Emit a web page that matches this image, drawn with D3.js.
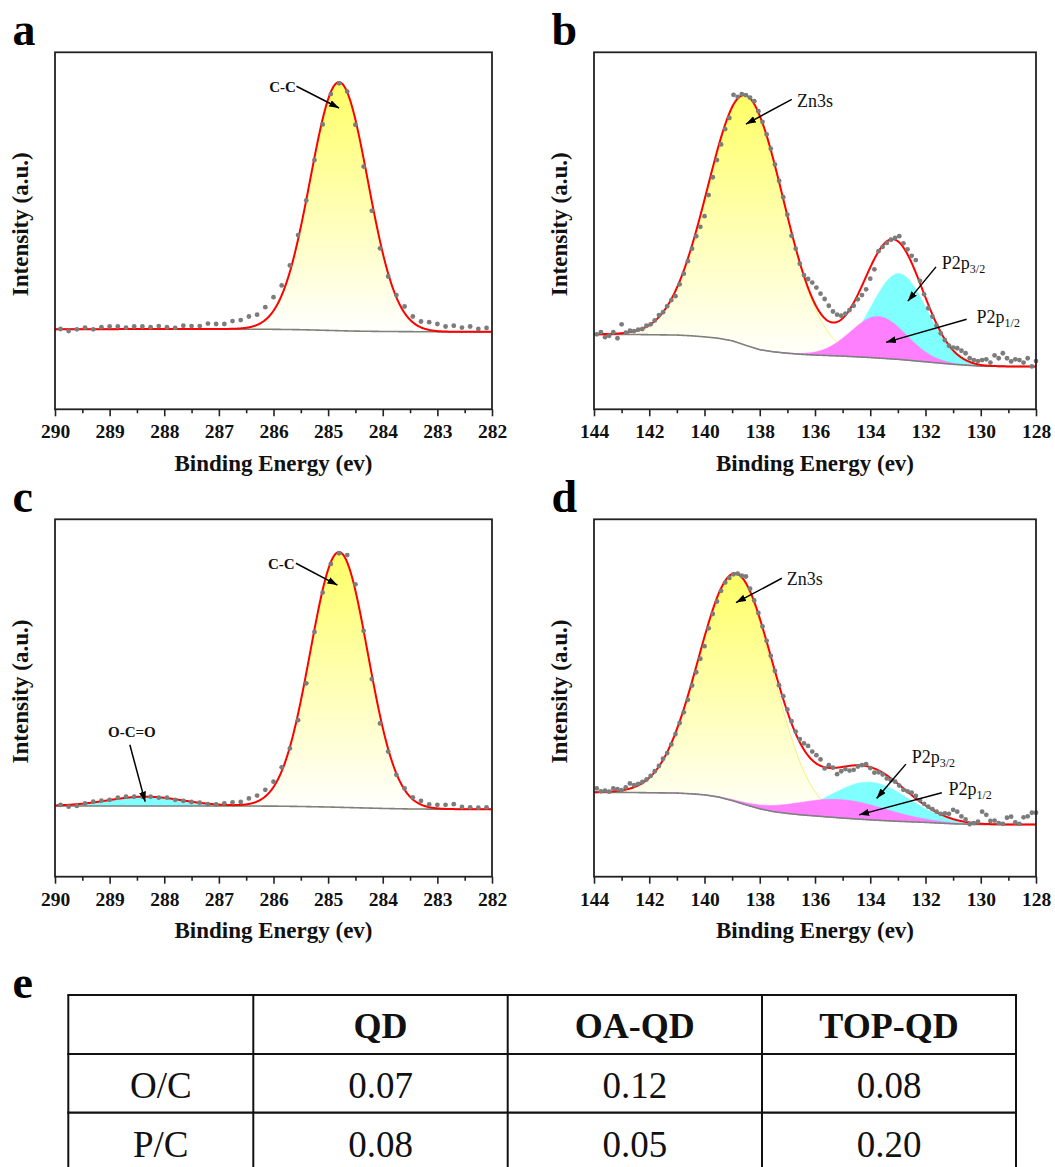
<!DOCTYPE html>
<html><head><meta charset="utf-8">
<script src="https://cdn.jsdelivr.net/npm/d3@7"></script>
<style>body{margin:0;background:#fff;} svg{display:block;font-family:"Liberation Serif","Times New Roman",serif;}</style>
</head><body><svg id="chart" width="1055" height="1167"></svg>
<script>
// ---------------- DATA ----------------
const xTicksAC = [290, 289, 288, 287, 286, 285, 284, 283, 282];
const xTicksBD = [144, 142, 140, 138, 136, 134, 132, 130, 128];

// C 1s spectra (panels a, c): binding energy (eV) and intensity (a.u., 0-100 of plot height)
const energyAC = [289.90, 289.75, 289.60, 289.45, 289.30, 289.15, 289.00, 288.85, 288.70, 288.55, 288.40, 288.25, 288.10, 287.95, 287.80, 287.65, 287.50, 287.35, 287.20, 287.05, 286.90, 286.75, 286.60, 286.45, 286.30, 286.15, 286.00, 285.85, 285.70, 285.55, 285.40, 285.25, 285.10, 284.95, 284.80, 284.65, 284.50, 284.35, 284.20, 284.05, 283.90, 283.75, 283.60, 283.45, 283.30, 283.15, 283.00, 282.85, 282.70, 282.55, 282.40, 282.25, 282.10];
const dotsA = [22.5, 21.9, 22.4, 22.9, 22.4, 23.0, 23.2, 23.2, 22.9, 23.2, 23.2, 23.0, 23.3, 23.0, 22.8, 23.4, 23.3, 23.3, 24.0, 23.9, 23.9, 24.7, 25.0, 26.0, 26.5, 28.6, 31.4, 34.7, 40.3, 48.8, 58.5, 69.8, 79.8, 88.3, 91.3, 89.0, 79.7, 68.0, 55.6, 45.1, 37.2, 32.0, 28.8, 26.0, 24.6, 24.4, 23.9, 23.2, 23.4, 22.9, 23.2, 22.5, 22.8];
const dotsC = [20.1, 19.6, 19.8, 20.5, 21.0, 21.3, 21.5, 22.1, 22.4, 22.4, 22.4, 22.4, 22.1, 22.1, 21.5, 21.2, 20.9, 20.7, 20.3, 20.2, 20.5, 20.8, 20.9, 21.9, 22.7, 24.3, 26.6, 30.6, 35.9, 43.8, 54.1, 68.5, 79.5, 87.5, 90.5, 90.0, 81.8, 68.8, 55.3, 42.9, 35.0, 28.5, 24.7, 22.2, 21.2, 20.2, 20.1, 20.1, 20.3, 19.5, 19.4, 19.3, 19.4];

// Zn 3s / P 2p spectra (panels b, d)
const energyBD = [143.90, 143.75, 143.60, 143.45, 143.30, 143.15, 143.00, 142.85, 142.70, 142.55, 142.40, 142.25, 142.10, 141.95, 141.80, 141.65, 141.50, 141.35, 141.20, 141.05, 140.90, 140.75, 140.60, 140.45, 140.30, 140.15, 140.00, 139.85, 139.70, 139.55, 139.40, 139.25, 139.10, 138.95, 138.80, 138.65, 138.50, 138.35, 138.20, 138.05, 137.90, 137.75, 137.60, 137.45, 137.30, 137.15, 137.00, 136.85, 136.70, 136.55, 136.40, 136.25, 136.10, 135.95, 135.80, 135.65, 135.50, 135.35, 135.20, 135.05, 134.90, 134.75, 134.60, 134.45, 134.30, 134.15, 134.00, 133.85, 133.70, 133.55, 133.40, 133.25, 133.10, 132.95, 132.80, 132.65, 132.50, 132.35, 132.20, 132.05, 131.90, 131.75, 131.60, 131.45, 131.30, 131.15, 131.00, 130.85, 130.70, 130.55, 130.40, 130.25, 130.10, 129.95, 129.80, 129.65, 129.50, 129.35, 129.20, 129.05, 128.90, 128.75, 128.60, 128.45, 128.30, 128.15, 128.00];
const dotsB = [21.0, 21.6, 20.2, 20.6, 21.6, 19.9, 23.8, 21.5, 22.0, 21.9,
  22.3, 22.5, 23.4, 23.8, 24.9, 26.4, 27.2, 28.9, 30.6, 31.7,
  35.0, 38.0, 41.5, 45.0, 48.5, 51.1, 54.1, 60.0, 65.0, 69.8,
  74.2, 78.5, 81.6, 88.1, 87.5, 88.3, 88.0, 87.3, 86.3, 83.5,
  80.5, 77.0, 73.0, 68.6, 64.0, 59.4, 54.5, 48.6, 45.0, 40.8,
  37.6, 36.5, 35.5, 34.1, 32.4, 30.9, 29.0, 27.4, 26.5, 26.2,
  26.8, 27.8, 29.0, 30.8, 32.0, 33.6, 36.6, 39.2, 44.3, 45.5,
  46.6, 47.5, 48.0, 48.5, 46.5, 44.8, 43.0, 41.8, 36.0, 32.2,
  28.3, 26.0, 23.5, 21.3, 19.4, 17.8, 17.3, 17.1, 16.4, 15.7,
  14.3, 13.8, 13.5, 13.8, 14.0, 13.1, 15.1, 14.3, 15.7, 14.3,
  13.4, 14.0, 13.8, 13.1, 14.3, 12.0, 13.5];
const dotsD = [24.7, 23.9, 24.1, 23.8, 24.7, 24.5, 24.2, 25.0, 26.1, 25.6,
  26.0, 26.5, 27.2, 28.2, 29.5, 31.0, 33.0, 34.6, 37.0, 39.9,
  43.0, 46.0, 49.5, 53.5, 57.2, 61.0, 64.5, 69.5, 73.5, 77.0,
  80.0, 82.3, 83.6, 84.6, 84.8, 84.2, 84.0, 80.6, 77.3, 73.8,
  70.0, 66.0, 61.8, 57.6, 53.6, 50.5, 46.8, 43.5, 40.6, 38.5,
  37.3, 36.6, 35.0, 34.0, 32.8, 30.3, 31.2, 30.5, 28.7, 29.5,
  30.1, 29.7, 29.9, 30.8, 31.2, 31.5, 30.4, 29.1, 29.2, 28.6,
  27.5, 27.0, 26.6, 25.5, 24.3, 23.9, 23.5, 22.6, 21.4, 20.4,
  19.6, 18.9, 18.2, 17.6, 17.7, 17.6, 18.7, 18.2, 16.9, 16.0,
  14.7, 15.0, 15.4, 18.2, 17.3, 15.6, 15.7, 15.0, 14.8, 16.5,
  16.8, 15.2, 14.8, 16.6, 16.9, 17.9, 17.9];

// Backgrounds (Shirley-type)
const bgEnergyAC = [290, 288, 287, 286, 285.5, 285, 284.5, 284, 283.5, 283, 282];
const bgA = [22.4, 22.5, 22.5, 22.4, 22.3, 22.1, 21.9, 21.8, 21.75, 21.7, 21.7];
const bgC = [19.8, 19.8, 19.8, 19.75, 19.65, 19.5, 19.3, 19.1, 18.95, 18.9, 18.85];
const bgEnergyBD = [144, 143, 142, 141, 140.5, 140, 139.5, 139, 138.5, 138, 137.5, 137, 136.5, 136, 135, 134, 133, 132, 131, 130, 129, 128];
const bgB = [21.0, 21.0, 20.9, 20.8, 20.6, 20.3, 19.9, 19.2, 17.9, 16.7, 16.1, 15.7, 15.4, 15.2, 14.9, 14.5, 14.0, 13.3, 12.6, 12.1, 12.0, 12.0];
const bgD = [23.6, 23.6, 23.5, 23.4, 23.2, 22.9, 22.3, 21.3, 20.1, 19.0, 18.2, 17.7, 17.3, 17.0, 16.4, 15.9, 15.5, 15.2, 14.8, 14.6, 14.6, 14.6];

// Fitted component peaks: centre (eV), height (a.u.), sigma (eV)
const peaksA = [{ name: "C-C", center: 284.8, height: 69.6, sigma: 0.527, kind: "yellow" }];
const peaksC = [
  { name: "O-C=O", center: 288.35, height: 2.6, sigma: 0.68, kind: "cyan" },
  { name: "C-C", center: 284.8, height: 71.4, sigma: 0.527, kind: "yellow" }];
const peaksB = [
  { name: "Zn3s", center: 138.5, height: 70, sigma: 1.37, kind: "yellow" },
  { name: "P2p3/2", center: 132.95, height: 24, sigma: 1.0, kind: "cyan" },
  { name: "P2p1/2", center: 133.7, height: 11.6, sigma: 1.0, kind: "magenta" }];
const peaksD = [
  { name: "Zn3s", center: 138.85, height: 63.5, sigma: 1.35, kind: "yellow" },
  { name: "P2p3/2", center: 134.0, height: 10.5, sigma: 1.4, kind: "cyan" },
  { name: "P2p1/2", center: 135.05, height: 5.1, sigma: 1.65, kind: "magenta" }];

// Annotations (label position and arrow in data coordinates)
const notesA = [{ text: "C-C", bold: true, tx: 286.08, ty: 88.8, from: [285.58, 90.5], to: [284.8, 84.4] }];
const notesC = [
  { text: "C-C", bold: true, tx: 286.1, ty: 86.1, from: [285.59, 87.7], to: [284.83, 81.6] },
  { text: "O-C=O", bold: true, tx: 289.03, ty: 39.1, from: [288.63, 36.9], to: [288.35, 21.0] }];
const notesB = [
  { text: "Zn3s", tx: 136.65, ty: 84.6, from: [136.84, 86.8], to: [138.5, 79.9] },
  { text: "P2p", sub: "3/2", tx: 131.41, ty: 39.4, from: [131.62, 39.9], to: [132.64, 30.3] },
  { text: "P2p", sub: "1/2", tx: 130.15, ty: 24.2, from: [130.51, 25.2], to: [133.43, 18.75] }];
const notesD = [
  { text: "Zn3s", tx: 137.02, ty: 81.6, from: [137.2, 83.5], to: [138.86, 76.7] },
  { text: "P2p", sub: "3/2", tx: 132.5, ty: 31.7, from: [132.71, 31.5], to: [133.77, 21.9] },
  { text: "P2p", sub: "1/2", tx: 131.17, ty: 22.9, from: [131.41, 23.5], to: [134.4, 17.3] }];

// Table (panel e)
const tableHeader = ["", "QD", "OA-QD", "TOP-QD"];
const tableRowLabels = ["O/C", "P/C"];
const tableValues = [["0.07", "0.12", "0.08"], ["0.08", "0.05", "0.20"]];

// ---------------- DRAWING ----------------
const FONT = '"Liberation Serif","Times New Roman",serif';
const svg = d3.select("#chart");
const defs = svg.append("defs");
const grad = defs.append("linearGradient").attr("id", "yellowGrad")
  .attr("x1", 0).attr("y1", 0).attr("x2", 0).attr("y2", 1);
grad.append("stop").attr("offset", "0%").attr("stop-color", "#ffff66");
grad.append("stop").attr("offset", "100%").attr("stop-color", "#ffffff");
defs.append("marker").attr("id", "arrowHead").attr("viewBox", "0 0 10 7")
  .attr("refX", 10).attr("refY", 3.5).attr("markerWidth", 10).attr("markerHeight", 7)
  .attr("markerUnits", "userSpaceOnUse").attr("orient", "auto")
  .append("path").attr("d", "M0,0 L10,3.5 L0,7 Z").attr("fill", "#000");

const fills = {
  yellow: { fill: "url(#yellowGrad)", stroke: "#eeee55" },
  cyan: { fill: "#80ffff", stroke: "#80ffff" },
  magenta: { fill: "#ff80ff", stroke: "#ff80ff" }
};

function drawPanel(id, box, letter, ticks, energy, dots, bgE, bgV, peaks, notes) {
  const { left, right, top, bottom } = box;
  const x = d3.scaleLinear().domain([ticks[0], ticks[ticks.length - 1]]).range([left, right]);
  const y = d3.scaleLinear().domain([0, 100]).range([bottom, top]);
  const bg = d3.scaleLinear().domain(bgE).range(bgV).clamp(true);
  const gauss = (p, e) => p.height * Math.exp(-0.5 * ((e - p.center) / p.sigma) ** 2);
  const [d0, d1] = x.domain();
  const grid = d3.range(0, 1201).map(i => d0 + (d1 - d0) * i / 1200);

  defs.append("clipPath").attr("id", "clip" + id).append("rect")
    .attr("x", left).attr("y", top).attr("width", right - left).attr("height", bottom - top);
  const g = svg.append("g");
  const plot = g.append("g").attr("clip-path", `url(#clip${id})`);

  peaks.forEach(p => {
    const pts = grid.filter(e => Math.abs(e - p.center) <= 4.5 * p.sigma);
    plot.append("path").datum(pts)
      .attr("d", d3.area().x(e => x(e)).y0(e => y(bg(e))).y1(e => y(bg(e) + gauss(p, e))))
      .attr("fill", fills[p.kind].fill).attr("stroke", fills[p.kind].stroke).attr("stroke-width", 0.8);
  });
  plot.append("path").datum(grid)
    .attr("d", d3.line().x(e => x(e)).y(e => y(bg(e))))
    .attr("fill", "none").attr("stroke", "#808080").attr("stroke-width", 1.6);

  g.append("g").selectAll("circle").data(d3.zip(energy, dots)).join("circle")
    .attr("cx", d => x(d[0])).attr("cy", d => y(d[1])).attr("r", 2.4).attr("fill", "#7c7c7c");

  plot.append("path").datum(grid)
    .attr("d", d3.line().x(e => x(e)).y(e => y(bg(e) + d3.sum(peaks, p => gauss(p, e)))))
    .attr("fill", "none").attr("stroke", "#ff0000").attr("stroke-width", 2);

  // frame
  g.append("rect").attr("x", left).attr("y", top).attr("width", right - left).attr("height", bottom - top)
    .attr("fill", "none").attr("stroke", "#222").attr("stroke-width", 1.8);

  // axis
  const major = d3.axisBottom(x).tickValues(ticks).tickSize(7).tickSizeOuter(0).tickPadding(8).tickFormat(d3.format("d"));
  const ax = g.append("g").attr("transform", `translate(0,${bottom})`).call(major);
  ax.select(".domain").remove();
  ax.selectAll("line").attr("stroke", "#222").attr("stroke-width", 1.6);
  ax.selectAll("text").attr("font-size", 19.5).attr("font-weight", "bold").attr("fill", "#111").attr("font-family", FONT);
  const minorVals = d3.pairs(ticks).map(([a, b]) => (a + b) / 2);
  const minor = d3.axisBottom(x).tickValues(minorVals).tickSize(4).tickSizeOuter(0).tickFormat("");
  const axm = g.append("g").attr("transform", `translate(0,${bottom})`).call(minor);
  axm.select(".domain").remove();
  axm.selectAll("line").attr("stroke", "#222").attr("stroke-width", 1.6);

  // titles
  g.append("text").attr("x", (left + right) / 2).attr("y", bottom + 61.6).attr("text-anchor", "middle")
    .attr("font-size", 23).attr("font-weight", "bold").attr("fill", "#111").text("Binding Energy (ev)");
  g.append("text").attr("transform", `translate(${left - 27},${(top + bottom) / 2 - 6.5}) rotate(-90)`)
    .attr("text-anchor", "middle").attr("font-size", 23).attr("font-weight", "bold").attr("fill", "#111")
    .text("Intensity (a.u.)");
  g.append("text").attr("x", left - 42.5).attr("y", top - 7.5).attr("font-size", 46).attr("font-weight", "bold")
    .attr("fill", "#000").text(letter);

  // annotations
  notes.forEach(a => {
    g.append("line").attr("x1", x(a.from[0])).attr("y1", y(a.from[1])).attr("x2", x(a.to[0])).attr("y2", y(a.to[1]))
      .attr("stroke", "#000").attr("stroke-width", 1.5).attr("marker-end", "url(#arrowHead)");
    const t = g.append("text").attr("x", x(a.tx)).attr("y", y(a.ty)).attr("fill", "#111")
      .attr("font-size", a.bold ? 15 : 18).attr("font-weight", a.bold ? "bold" : "normal");
    t.append("tspan").text(a.text);
    if (a.sub) t.append("tspan").attr("dy", 4).attr("font-size", 12).text(a.sub);
  });
}

drawPanel("a", { left: 55, right: 492, top: 52.3, bottom: 409.3 }, "a", xTicksAC, energyAC, dotsA, bgEnergyAC, bgA, peaksA, notesA);
drawPanel("b", { left: 594, right: 1036, top: 52.3, bottom: 409.3 }, "b", xTicksBD, energyBD, dotsB, bgEnergyBD, bgB, peaksB, notesB);
drawPanel("c", { left: 55, right: 492, top: 519.3, bottom: 876.7 }, "c", xTicksAC, energyAC, dotsC, bgEnergyAC, bgC, peaksC, notesC);
drawPanel("d", { left: 594, right: 1036, top: 519.3, bottom: 876.7 }, "d", xTicksBD, energyBD, dotsD, bgEnergyBD, bgD, peaksD, notesD);

// ---------------- TABLE (e) ----------------
const colEdges = [68.3, 253.3, 507.7, 762, 1016];
const rowEdges = [995, 1054, 1112.7, 1171.4];
const tg = svg.append("g");
tg.append("text").attr("x", 12.5).attr("y", 998).attr("font-size", 46).attr("font-weight", "bold").text("e");
rowEdges.forEach(yy => tg.append("line").attr("x1", colEdges[0] - 1).attr("x2", colEdges[4] + 1).attr("y1", yy).attr("y2", yy)
  .attr("stroke", "#111").attr("stroke-width", 2.2));
colEdges.forEach(xx => tg.append("line").attr("x1", xx).attr("x2", xx).attr("y1", rowEdges[0]).attr("y2", rowEdges[3])
  .attr("stroke", "#111").attr("stroke-width", 2));
const colMid = d3.pairs(colEdges).map(([a, b]) => (a + b) / 2);
tableHeader.forEach((h, i) => tg.append("text").attr("x", colMid[i]).attr("y", 1038.3).attr("text-anchor", "middle")
  .attr("font-size", 36).attr("font-weight", "bold").attr("fill", "#111").text(h));
const rowBase = [1097.7, 1156.7];
tableRowLabels.forEach((lab, r) => {
  tg.append("text").attr("x", colMid[0]).attr("y", rowBase[r]).attr("text-anchor", "middle")
    .attr("font-size", 37).attr("fill", "#111").text(lab);
  tableValues[r].forEach((v, c) => tg.append("text").attr("x", colMid[c + 1]).attr("y", rowBase[r])
    .attr("text-anchor", "middle").attr("font-size", 37).attr("fill", "#111").text(v));
});
</script>
</body></html>
